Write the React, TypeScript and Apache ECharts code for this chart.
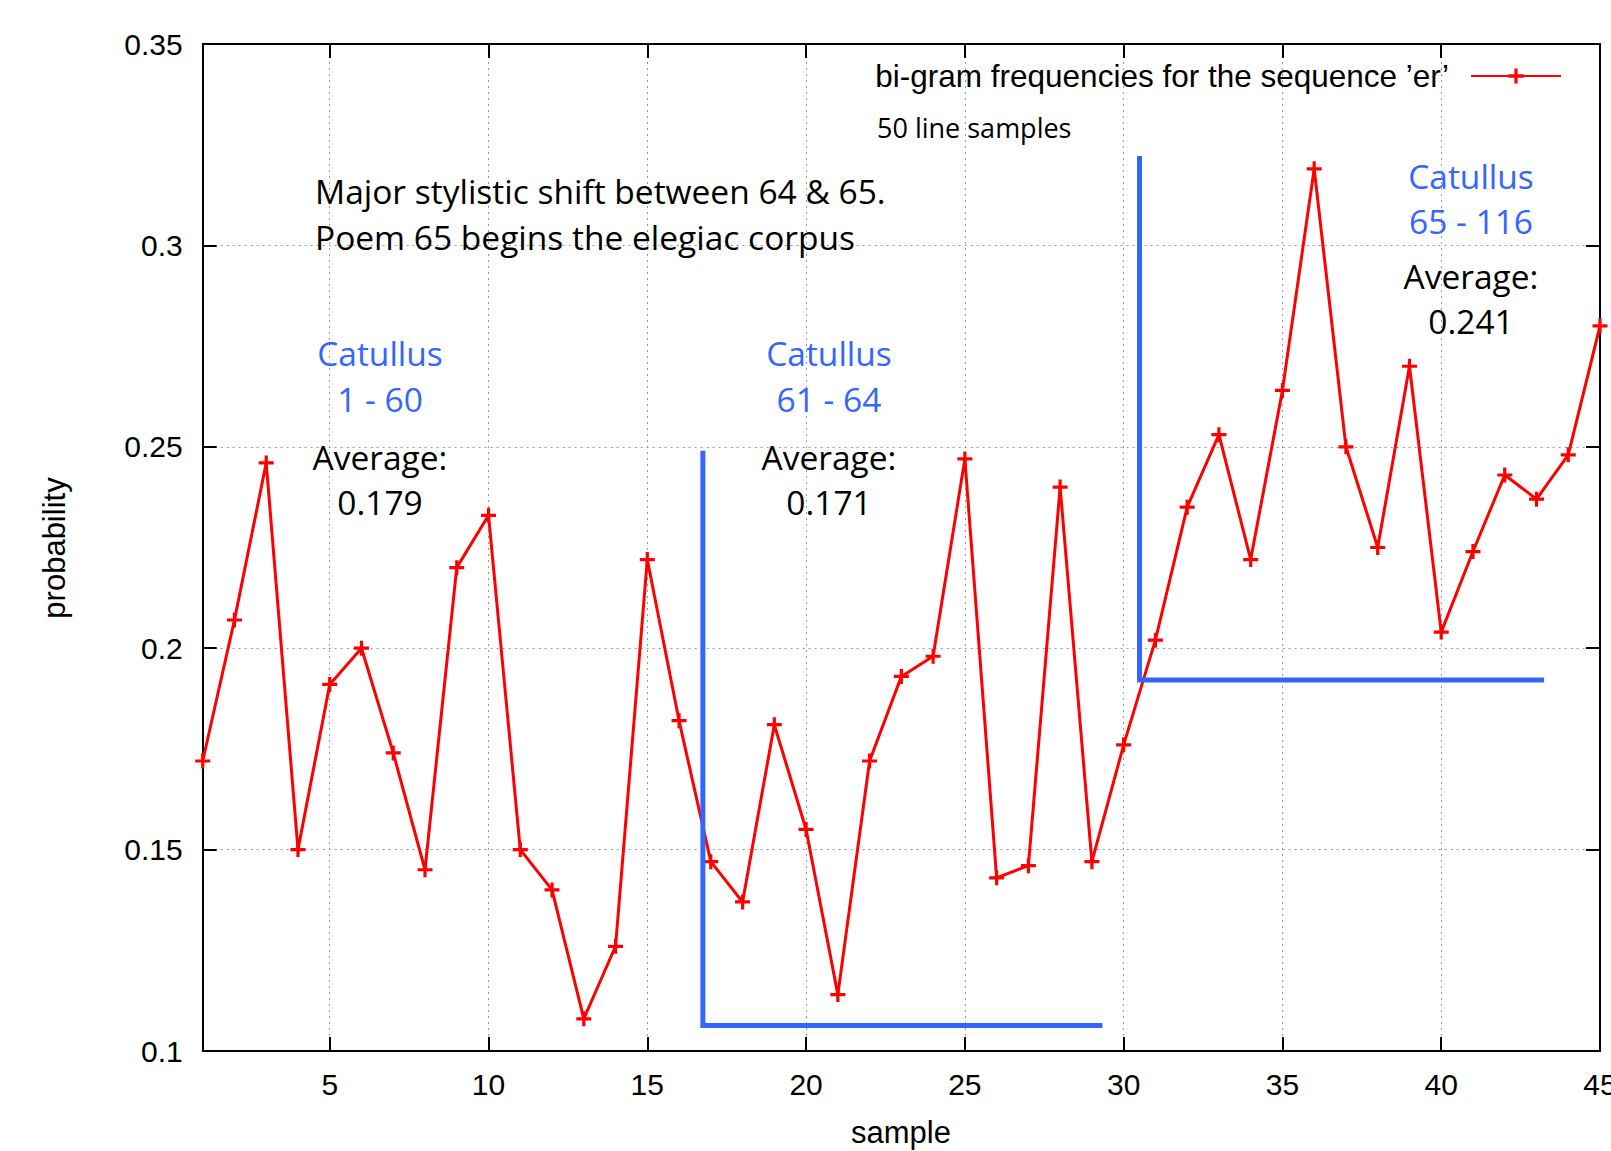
import React, { useEffect, useRef } from "react";
import * as echarts from "echarts";

// ---- data ----
const samples = [
  1, 2, 3, 4, 5, 6, 7, 8, 9, 10, 11, 12, 13, 14, 15, 16, 17, 18, 19, 20, 21, 22, 23,
  24, 25, 26, 27, 28, 29, 30, 31, 32, 33, 34, 35, 36, 37, 38, 39, 40, 41, 42, 43, 44, 45,
];
const probability = [
  0.172, 0.207, 0.246, 0.15, 0.191, 0.2, 0.174, 0.145, 0.22, 0.233, 0.15, 0.14, 0.108,
  0.126, 0.222, 0.182, 0.147, 0.137, 0.181, 0.155, 0.114, 0.172, 0.193, 0.198, 0.247,
  0.143, 0.146, 0.24, 0.147, 0.176, 0.202, 0.235, 0.253, 0.222, 0.264, 0.319, 0.25,
  0.225, 0.27, 0.204, 0.224, 0.243, 0.237, 0.248, 0.28,
];
const seriesName = "bi-gram frequencies for the sequence \u2019er\u2019";

// bracket annotations (sample, probability)
const bracket6164 = [
  [16.75, 0.249],
  [16.75, 0.1063],
  [29.33, 0.1063],
];
const bracket65116 = [
  [30.5, 0.3222],
  [30.5, 0.1921],
  [43.24, 0.1921],
];

const xTickLabels = ["5", "10", "15", "20", "25", "30", "35", "40", "45"];

const noteLines = ["Major stylistic shift between 64 & 65.", "Poem 65 begins the elegiac corpus"];
const groupTitles = [
  ["Catullus", "1 - 60"],
  ["Catullus", "61 - 64"],
  ["Catullus", "65 - 116"],
];
const groupAverages = ["0.179", "0.171", "0.241"];
const subtitle = "50 line samples";

const RED = "#ff0000";
const BLUE = "#3366ff";
const TICK_FONT = "'Liberation Sans', Arial, Helvetica, sans-serif";
const NOTE_FONT = "'Open Sans', Lato, sans-serif";
const PLUS = "path://M5.5,0H8.5V5.5H14V8.5H8.5V14H5.5V8.5H0V5.5H5.5Z";

function txt(text: string, x: number, y: number, color: string, align: string, size = 33.5) {
  return {
    type: "text",
    x,
    y,
    z: 10,
    silent: true,
    style: {
      text,
      fill: color,
      font: `${size}px ${NOTE_FONT}`,
      textAlign: align,
      textVerticalAlign: "middle",
      align,
      verticalAlign: "middle",
    },
  };
}

export default function App() {
  const ref = useRef<HTMLDivElement>(null);

  useEffect(() => {
    if (!ref.current) return;
    const chart = echarts.init(ref.current, undefined, { renderer: "svg" });

    const groupX = [380, 829, 1471];
    const groupY = [
      [353, 399, 457, 502],
      [353, 399, 457, 502],
      [176, 221, 276, 321],
    ];
    const graphics: any[] = [];
    noteLines.forEach((l, i) => graphics.push(txt(l, 315, [191, 237][i], "#000", "left")));
    graphics.push(txt(subtitle, 877, 127, "#000", "left", 27));
    groupTitles.forEach((g, i) => {
      graphics.push(txt(g[0], groupX[i], groupY[i][0], BLUE, "center"));
      graphics.push(txt(g[1], groupX[i], groupY[i][1], BLUE, "center"));
      graphics.push(txt("Average:", groupX[i], groupY[i][2], "#000", "center"));
      graphics.push(txt(groupAverages[i], groupX[i], groupY[i][3], "#000", "center"));
    });
    graphics.push({
      type: "text",
      x: 901,
      y: 1132,
      silent: true,
      style: {
        text: "sample",
        fill: "#000",
        font: `31px ${TICK_FONT}`,
        textAlign: "center",
        textVerticalAlign: "middle",
        align: "center",
        verticalAlign: "middle",
      },
    });
    graphics.push({
      type: "text",
      x: 54,
      y: 548,
      rotation: Math.PI / 2,
      silent: true,
      style: {
        text: "probability",
        fill: "#000",
        font: `31px ${TICK_FONT}`,
        textAlign: "center",
        textVerticalAlign: "middle",
        align: "center",
        verticalAlign: "middle",
      },
    });

    const axisLine = { show: true, onZero: false, lineStyle: { color: "#000", width: 2 } };
    const axisTick = { show: true, inside: true, length: 14, lineStyle: { color: "#000", width: 2 } };
    const splitLine = { show: true, lineStyle: { color: "#999", width: 1, type: [2, 4] } };

    const xBase = {
      type: "value",
      min: 1,
      max: 45,
      minInterval: 5,
      maxInterval: 5,
      axisLine,
      axisTick,
    };
    const yBase = {
      type: "value",
      min: 0.1,
      max: 0.35,
      interval: 0.05,
      axisLine,
      axisTick,
    };

    chart.setOption({
      animation: false,
      backgroundColor: "#ffffff",
      grid: {
        left: 202.7,
        right: 11,
        top: 44,
        bottom: 100,
        containLabel: false,
        outerBoundsMode: "none",
      },
      legend: {
        data: [seriesName],
        align: "right",
        right: 49,
        top: 60,
        padding: 0,
        itemWidth: 90,
        itemHeight: 19,
        selectedMode: false,
        textStyle: {
          fontFamily: TICK_FONT,
          fontSize: 31.5,
          color: "#000",
          padding: [0, 17, 0, 0],
        },
      },
      xAxis: [
        {
          ...xBase,
          position: "bottom",
          splitLine,
          axisLabel: {
            show: true,
            margin: 18,
            fontFamily: TICK_FONT,
            fontSize: 30,
            color: "#000",
            showMinLabel: false,
            showMaxLabel: true,
            hideOverlap: false,
            formatter: (v: number) => (xTickLabels.includes(String(v)) ? String(v) : ""),
          },
        },
        { ...xBase, position: "top", splitLine: { show: false }, axisLabel: { show: false } },
      ],
      yAxis: [
        {
          ...yBase,
          position: "left",
          splitLine,
          axisLabel: {
            show: true,
            margin: 20,
            fontFamily: TICK_FONT,
            fontSize: 30,
            color: "#000",
          },
        },
        { ...yBase, position: "right", splitLine: { show: false }, axisLabel: { show: false } },
      ],
      series: [
        {
          name: seriesName,
          type: "line",
          xAxisIndex: 0,
          yAxisIndex: 0,
          data: samples.map((s, i) => [s, probability[i]]),
          symbol: PLUS,
          symbolSize: 15,
          clip: false,
          lineStyle: { color: RED, width: 3 },
          itemStyle: { color: RED, borderWidth: 0 },
          z: 3,
        },
        {
          name: "bracket 61-64",
          type: "line",
          data: bracket6164,
          symbol: "none",
          silent: true,
          lineStyle: { color: BLUE, width: 5, join: "miter" },
          z: 5,
        },
        {
          name: "bracket 65-116",
          type: "line",
          data: bracket65116,
          symbol: "none",
          silent: true,
          lineStyle: { color: BLUE, width: 5, join: "miter" },
          z: 5,
        },
      ],
      graphic: graphics,
    });

    return () => chart.dispose();
  }, []);

  return (
    <div
      ref={ref}
      style={{ position: "fixed", left: 0, top: 0, width: 1611, height: 1151, background: "#fff" }}
    />
  );
}
